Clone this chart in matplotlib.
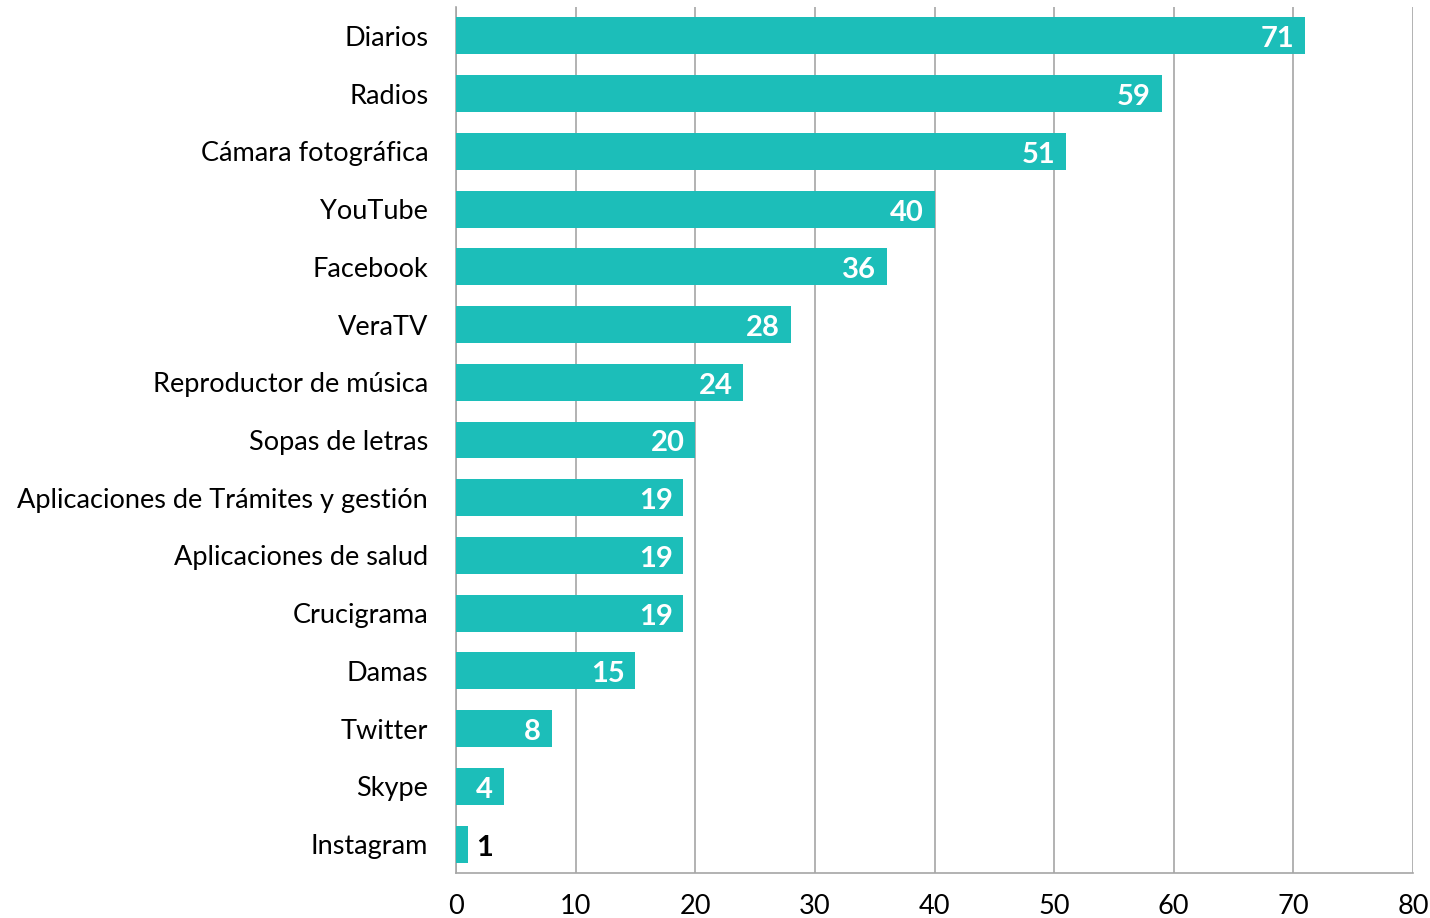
import matplotlib.pyplot as plt
import numpy as np

plt.rcParams["font.family"] = ["Lato", "DejaVu Sans"]

categories = [
    "Diarios", "Radios", "Cámara fotográfica", "YouTube", "Facebook",
    "VeraTV", "Reproductor de música", "Sopas de letras",
    "Aplicaciones de Trámites y gestión", "Aplicaciones de salud",
    "Crucigrama", "Damas", "Twitter", "Skype", "Instagram",
]
values = [71, 59, 51, 40, 36, 28, 24, 20, 19, 19, 19, 15, 8, 4, 1]
xticks = [0, 10, 20, 30, 40, 50, 60, 70, 80]

BAR = "#1cbeb9"
GRID = "#a6a6a6"

fig = plt.figure(figsize=(14.3, 9.18), dpi=100)
ax = fig.add_axes([0.3189, 0.049, 0.6692, 0.9434])

y = np.arange(len(categories))
ax.barh(y, values, height=0.64, color=BAR, zorder=3)

# value labels: white inside the bar end, black outside for tiny bars
for yi, v in zip(y, values):
    if v >= 3:
        ax.text(v - 0.9, yi + 0.06, str(v), ha="right", va="center",
                color="white", fontsize=21, fontweight="bold", zorder=4)
    else:
        ax.text(v + 0.7, yi + 0.06, str(v), ha="left", va="center",
                color="black", fontsize=21, fontweight="bold", zorder=4)

ax.set_xlim(0, 80)
ax.set_ylim(len(categories) - 0.5, -0.5)
ax.set_yticks(y)
ax.set_yticklabels(categories)
ax.set_xticks(xticks)
ax.tick_params(axis="both", length=0, labelsize=19.5)
ax.tick_params(axis="y", pad=20)
ax.tick_params(axis="x", pad=15)

ax.xaxis.grid(True, color=GRID, lw=1.2, zorder=0)
ax.yaxis.grid(False)
for side in ["top", "right"]:
    ax.spines[side].set_visible(False)
for side in ["left", "bottom"]:
    ax.spines[side].set_color(GRID)
    ax.spines[side].set_linewidth(1.2)

fig.savefig("out.png", dpi=100)
